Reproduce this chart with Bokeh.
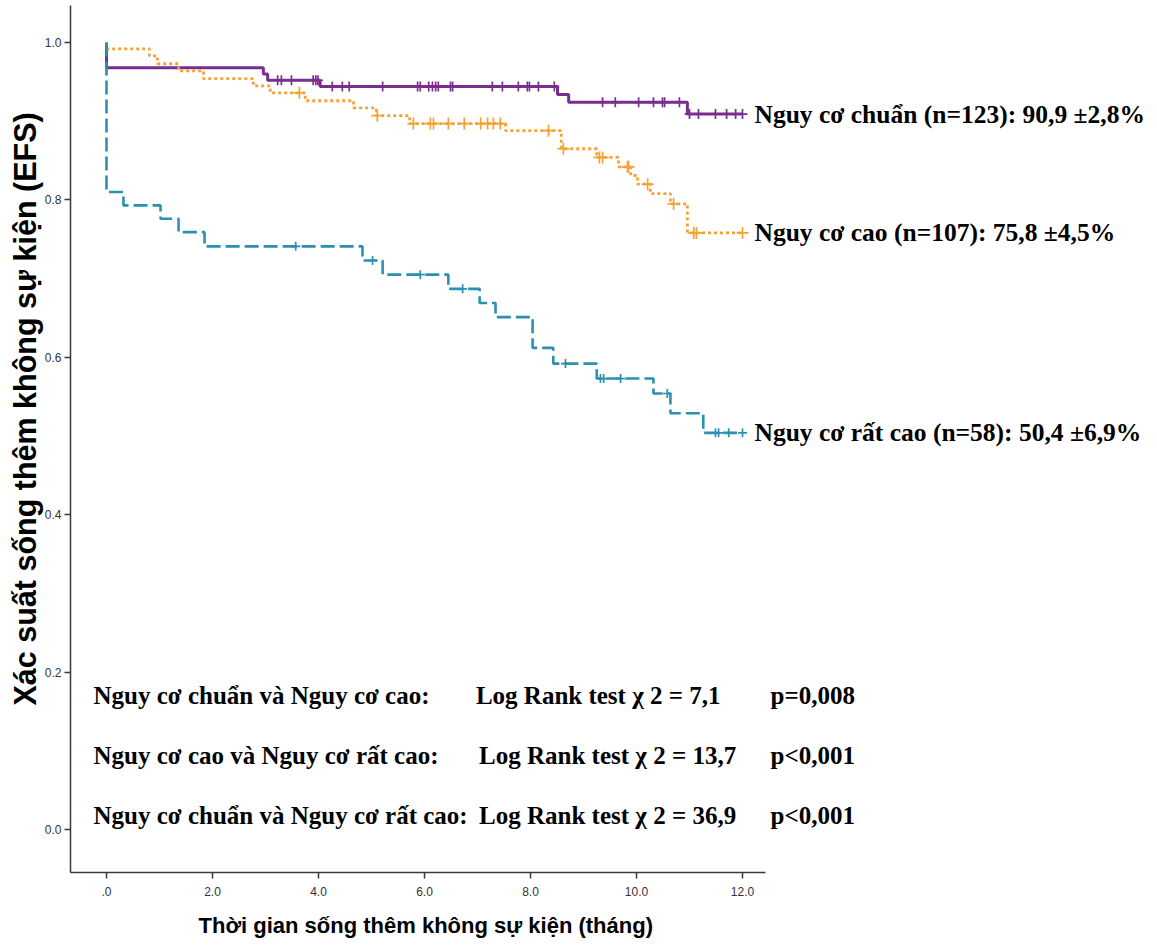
import numpy as np
from bokeh.plotting import figure
from bokeh.models import Range1d, FixedTicker, Label, Title
from bokeh.embed import file_html
from bokeh.resources import INLINE

# ---------------- data ----------------
# Nguy cơ chuẩn (n=123)
std_t = [0.0, 2.96, 3.04, 4.03, 8.51, 8.72, 10.96]
std_s = [0.968, 0.960, 0.952, 0.944, 0.934, 0.924, 0.909]
std_cens = [3.23, 3.30, 3.49, 3.90, 3.95, 3.99, 4.26, 4.45, 4.58, 5.21, 5.87, 5.92,
            6.08, 6.15, 6.21, 6.26, 6.49, 6.53, 7.28, 7.47, 7.77, 7.94, 7.98, 8.15,
            8.45, 9.36, 9.60, 10.04, 10.32, 10.49, 10.53, 10.81, 11.0, 11.17, 11.49,
            11.70, 11.87, 12.0]

# Nguy cơ cao (n=107)
high_t = [0.0, 0.81, 0.96, 1.36, 1.83, 2.77, 3.09, 3.75, 4.66, 5.09, 5.72, 7.53,
          8.58, 9.25, 9.66, 9.89, 10.02, 10.26, 10.64, 10.96]
high_s = [0.992, 0.983, 0.973, 0.964, 0.954, 0.945, 0.936, 0.926, 0.917, 0.907,
          0.897, 0.888, 0.865, 0.854, 0.842, 0.831, 0.820, 0.808, 0.795, 0.758]
high_cens = [3.64, 5.11, 5.79, 6.11, 6.17, 6.45, 6.75, 7.06, 7.19, 7.30, 7.43, 8.34,
             8.62, 9.30, 9.36, 9.83, 9.85, 10.21, 10.70, 11.08, 11.13, 12.0]

# Nguy cơ rất cao (n=58)
vhigh_t = [0.0, 0.32, 1.02, 1.36, 1.85, 4.83, 5.21, 6.45, 7.04, 7.34, 8.04, 8.43,
           9.25, 10.32, 10.64, 11.26]
vhigh_s = [0.810, 0.793, 0.776, 0.759, 0.741, 0.723, 0.705, 0.687, 0.669, 0.651,
           0.612, 0.592, 0.573, 0.554, 0.529, 0.504]
vhigh_cens = [3.57, 5.02, 5.92, 6.72, 8.66, 9.32, 9.38, 9.70, 10.58, 11.49, 11.55,
              11.74, 12.0]

end_time = 12.0
x_axis_end = 12.43

group_labels = ["Nguy cơ chuẩn (n=123): 90,9 ±2,8%",
                "Nguy cơ cao (n=107): 75,8 ±4,5%",
                "Nguy cơ rất cao (n=58):  50,4 ±6,9%"]

test_pairs = ["Nguy cơ chuẩn và Nguy cơ cao:",
              "Nguy cơ cao và Nguy cơ rất cao:",
              "Nguy cơ chuẩn và Nguy cơ rất cao:"]
test_stats = ["Log Rank test χ 2 = 7,1",
              "Log Rank test χ 2 = 13,7",
              "Log Rank test χ 2 = 36,9"]
test_p = ["p=0,008", "p<0,001", "p<0,001"]

x_ticks = [0, 2, 4, 6, 8, 10, 12]
x_tick_labels = [".0", "2.0", "4.0", "6.0", "8.0", "10.0", "12.0"]
y_ticks = [0.0, 0.2, 0.4, 0.6, 0.8, 1.0]
y_tick_labels = ["0.0", "0.2", "0.4", "0.6", "0.8", "1.0"]

x_title = "Thời gian sống thêm không sự kiện (tháng)"
y_title = "Xác suất sống thêm không sự kiện (EFS)"

colors = ["#7b2d8e", "#f7a133", "#2b91ae"]

# ---------------- figure ----------------
x_start, x_end = -0.679, 19.83
p = figure(width=1157, height=952,
           x_range=Range1d(x_start, x_end), y_range=Range1d(-0.0546, 1.047),
           output_backend="svg", toolbar_location=None,
           min_border_left=70, min_border_right=0, min_border_top=5,
           min_border_bottom=80)
p.outline_line_color = None
p.xgrid.visible = False
p.ygrid.visible = False
p.background_fill_color = "white"

sans = "Liberation Sans"
for ax in (p.xaxis[0], p.yaxis[0]):
    ax.axis_line_color = "#3a3a3a"
    ax.axis_line_width = 1.5
    ax.major_tick_line_color = "#3a3a3a"
    ax.major_tick_line_width = 1.5
    ax.major_tick_out = 6
    ax.major_tick_in = 0
    ax.minor_tick_line_color = None
    ax.major_label_text_font = sans
    ax.major_label_text_font_size = "12px"
    ax.major_label_text_color = "#333333"

p.xaxis[0].ticker = FixedTicker(ticks=x_ticks)
p.xaxis[0].major_label_overrides = {t: l for t, l in zip(x_ticks, x_tick_labels)}
p.xaxis[0].major_label_standoff = 8
p.xaxis[0].bounds = (x_start, x_axis_end)
p.yaxis[0].ticker = FixedTicker(ticks=y_ticks)
p.yaxis[0].major_label_overrides = {t: l for t, l in zip(y_ticks, y_tick_labels)}
p.yaxis[0].major_label_standoff = 3


def km_steps(t, s):
    xs = [0.0] + list(t) + [end_time]
    ys = [1.0] + list(s) + [s[-1]]
    return xs, ys


def cens_y(t, s, c):
    idx = np.searchsorted(np.array(t), np.array(c), side="right") - 1
    return list(np.array(s)[idx])


series = [(std_t, std_s, std_cens, colors[0], "solid", 3.0, 10),
          (high_t, high_s, high_cens, colors[1], "3 3", 2.8, 12),
          (vhigh_t, vhigh_s, vhigh_cens, colors[2], "14 5", 2.6, 9)]

for t, s, c, col, dash, lw, ms in series:
    xs, ys = km_steps(t, s)
    p.step(xs, ys, mode="after", line_color=col, line_width=lw, line_dash=dash,
           line_cap="butt")
    p.scatter(c, cens_y(t, s, c), marker="cross", size=ms, line_color=col,
              line_width=1.7)

serif = "Liberation Serif"
ends = [std_s[-1], high_s[-1], vhigh_s[-1]]
for lab, yv in zip(group_labels, ends):
    p.add_layout(Label(x=end_time, y=yv, x_offset=12, text=lab,
                       text_font=serif, text_font_style="bold",
                       text_font_size="25.5px", text_color="black",
                       text_baseline="middle", text_align="left"))

row_y = [0.170, 0.094, 0.018]
col_x = [-0.245, 6.97, 12.53]
for i in range(3):
    for j, txt in enumerate([test_pairs[i], test_stats[i], test_p[i]]):
        xpos = col_x[j] + (0.06 if (j == 1 and i > 0) else 0.0)
        p.add_layout(Label(x=xpos, y=row_y[i], text=txt,
                           text_font=serif, text_font_style="bold",
                           text_font_size="25px", text_color="black",
                           text_baseline="middle", text_align="left"))

p.add_layout(Title(text=x_title, align="left", offset=128, standoff=24,
                   text_font=sans, text_font_style="bold",
                   text_font_size="22px", text_color="black"), "below")
p.add_layout(Title(text=y_title, align="left", offset=167, standoff=0,
                   text_font=sans, text_font_style="bold",
                   text_font_size="30.5px", text_color="black"), "left")

open("out.html", "w").write(file_html(p, INLINE))
